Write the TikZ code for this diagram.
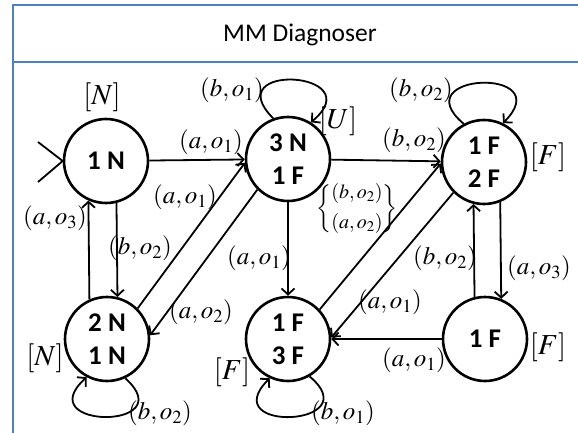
\documentclass[tikz,border=0pt]{standalone}
\usepackage{amsmath}
\usepackage{mathptmx}
\usepackage[no-math]{fontspec}
\setmainfont{Carlito}
\usetikzlibrary{arrows.meta}
\definecolor{frameblue}{HTML}{4F81BD}
\begin{document}
\begin{tikzpicture}[x=1pt,y=1pt,
  st/.style={circle,draw,line width=2.6pt,minimum size=84pt,inner sep=0pt,align=center,
    font=\fontsize{27}{33}\selectfont\bfseries},
  tr/.style={-{Straight Barb[length=6pt,width=13pt,line width=1.8pt]},line width=1.8pt},
  plain/.style={line width=1.8pt},
  lb/.style={inner sep=0pt,font=\fontsize{25}{27}\selectfont},
  mk/.style={inner sep=0pt,font=\fontsize{29}{31}\selectfont},
  ttl/.style={inner sep=0pt,font=\fontsize{25.5}{28}\selectfont}]
\useasboundingbox (0,0) rectangle (578,432);
% frame
\draw[frameblue,line width=2.5pt] (13,427) rectangle (600,-20);
\draw[frameblue,line width=2.5pt] (13,370) -- (600,370);
\node[ttl] (title) at (300,397) {MM Diagnoser};
% states
\node[st] (n1) at (106,271) {1 N};
\node[st] (n2) at (288,273) {3 N\\1 F};
\node[st] (n3) at (484,270) {1 F\\2 F};
\node[st] (n4) at (107,93) {2 N\\1 N};
\node[st] (n5) at (288,93) {1 F\\3 F};
\node[st] (n6) at (485,93) {1 F};
% initial marker
\coordinate (i1) at (38,290);
\coordinate (i2) at (38,250);
\draw[plain] (i1) -- (n1.west) -- (i2);
% transitions
\draw[tr] (n1) -- (n2);
\draw[tr] (n1.-76) -- (n4.76);
\draw[tr] (n4.114) -- (n1.-114);
\draw[tr] (n4.45) -- (n2.185);
\draw[tr] (n2.225) -- (n4.5);
\draw[tr] (n2) -- (n3);
\draw[tr] (n2) -- (n5);
\draw[tr] (n5.43) -- (n3.182);
\draw[tr] (n3.225) -- (n5.2);
\draw[tr] (n6.104) -- (n3.-104);
\draw[tr] (n3.-68) -- (n6.68);
\draw[tr] (n6) -- (n5);
% self loops
\draw[tr] (n2.110) .. controls +(135:80) and +(40:80) .. (n2.58);
\draw[tr] (n3.118) .. controls +(140:80) and +(45:80) .. (n3.64);
\draw[tr] (n4.295) .. controls +(318:78) and +(222:78) .. (n4.242);
\draw[tr] (n5.300) .. controls +(320:78) and +(225:78) .. (n5.245);
% labels
\node[mk] (m1) at (102,335) {$[N]$};
\node[mk] (m2) at (338,311) {$[U]$};
\node[mk] (m3) at (548,275) {$[F]$};
\node[mk] (m4) at (45,74) {$[N]$};
\node[mk] (m5) at (232,60) {$[F]$};
\node[mk] (m6) at (548,85) {$[F]$};
\node[lb] (l1) at (211,290) {$(a,o_1)$};
\node[lb] (l2) at (414,292) {$(b,o_2)$};
\node[lb] (l3) at (232,342) {$(b,o_1)$};
\node[lb] (l4) at (421,342) {$(b,o_2)$};
\node[lb] (l5) at (55,214) {$(a,o_3)$};
\node[lb] (l6) at (185,235) {$(a,o_1)$};
\node[lb] (l7) at (140,184) {$(b,o_2)$};
\node[lb] (l8) at (259,174) {$(a,o_1)$};
\node[inner sep=0pt,font=\fontsize{20}{21}\selectfont] (l9) at (357,223)
  {$\begin{Bmatrix}(b,o_2)\\[9pt](a,o_2)\end{Bmatrix}$};
\node[lb] (l10) at (445,174) {$(b,o_2)$};
\node[lb] (l11) at (539,164) {$(a,o_3)$};
\node[lb] (l12) at (201,120) {$(a,o_2)$};
\node[lb] (l13) at (390,130) {$(a,o_1)$};
\node[lb] (l14) at (414,72) {$(a,o_1)$};
\node[lb] (l15) at (160,19) {$(b,o_2)$};
\node[lb] (l16) at (343,19) {$(b,o_1)$};
\end{tikzpicture}
\end{document}
